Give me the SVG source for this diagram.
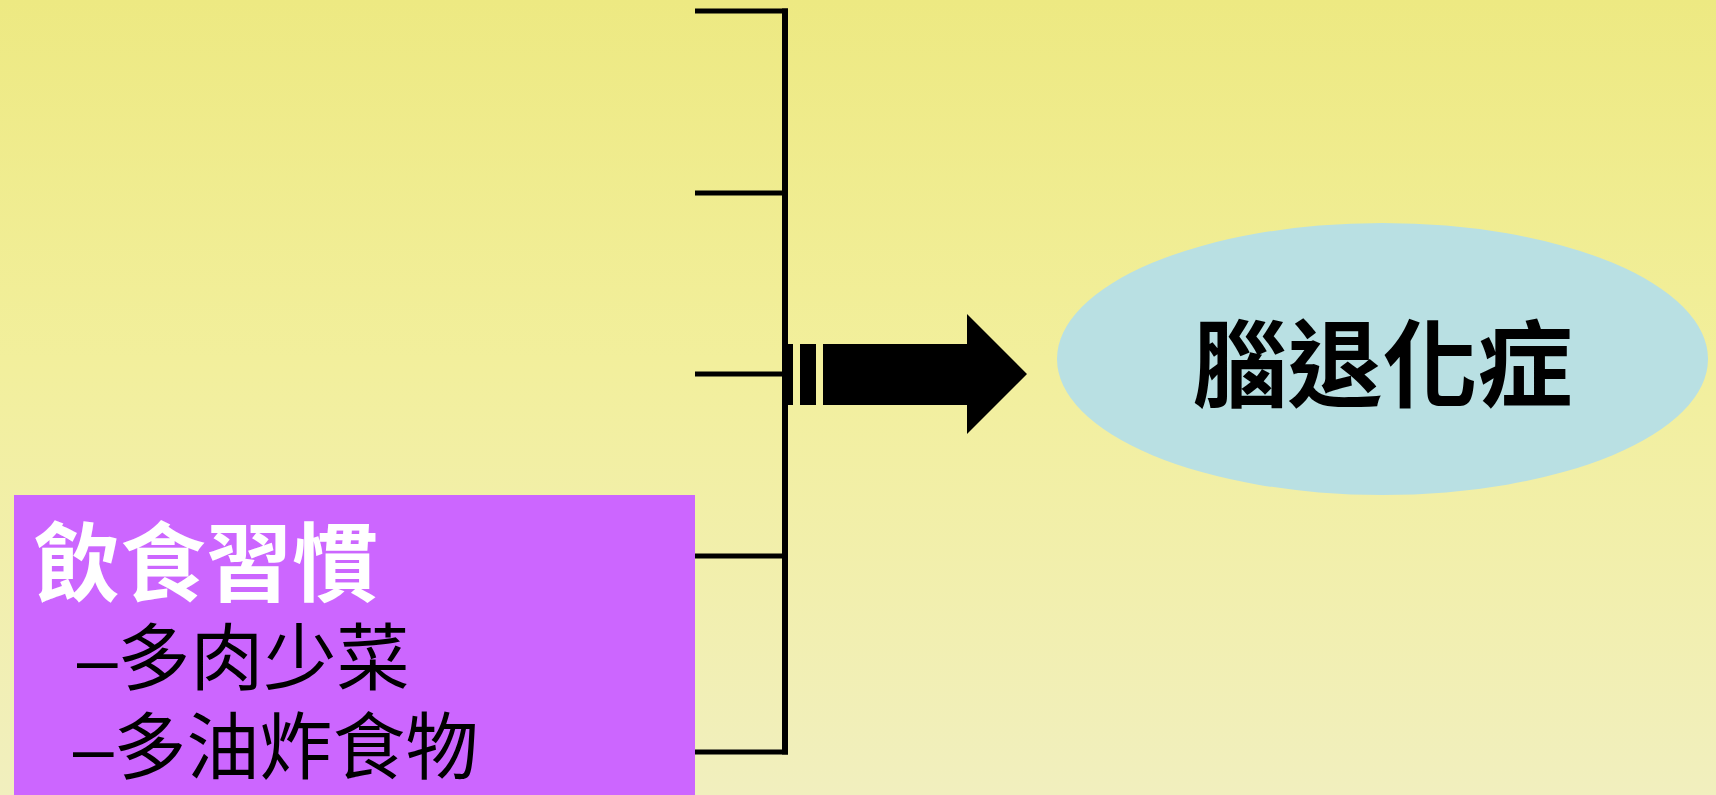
<svg xmlns="http://www.w3.org/2000/svg" width="1716" height="795" viewBox="0 0 1716 795">
  <defs>
    <linearGradient id="bg" x1="0" y1="0" x2="0" y2="1">
      <stop offset="0" stop-color="#EDE982"/>
      <stop offset="0.45" stop-color="#F2EF9C"/>
      <stop offset="1" stop-color="#F1EFBE"/>
    </linearGradient>
    <style>
      .ln { stroke: #000; stroke-width: 5; fill: none; }
      .cjk { font-family: "Noto Sans CJK TC", "Noto Sans CJK SC", sans-serif; }
      .item { font-family: "Liberation Sans", "Noto Sans CJK TC", sans-serif; font-size: 73px; fill: #000; }
    </style>
  </defs>
  <rect x="0" y="0" width="1716" height="795" fill="url(#bg)"/>

  <g id="connectors">
    <line class="ln" x1="695" y1="11" x2="788" y2="11"/>
    <line class="ln" x1="695" y1="193" x2="788" y2="193"/>
    <line class="ln" x1="695" y1="374" x2="788" y2="374"/>
    <line class="ln" x1="695" y1="556" x2="788" y2="556"/>
    <line class="ln" x1="695" y1="752" x2="788" y2="752"/>
    <line x1="785" y1="8.5" x2="785" y2="754.5" stroke="#000" stroke-width="6"/>
    <rect x="785" y="344" width="8" height="61" fill="#000"/>
    <rect x="800" y="344" width="16" height="61" fill="#000"/>
    <polygon points="823,344 967,344 967,314 1027,374 967,434 967,405 823,405" fill="#000"/>
  </g>

  <g id="node-diet">
    <rect x="14" y="495" width="681" height="300" fill="#CC66FF"/>
    <text class="cjk" x="34" y="595" font-size="86" font-weight="700" fill="#FFFFFF">飲食習慣</text>
    <text class="item" x="77" y="684">–多肉少菜</text>
    <text class="item" x="73" y="773">–多油炸食物</text>
  </g>

  <g id="node-dementia">
    <ellipse cx="1382.5" cy="359" rx="325.5" ry="136" fill="#B9E0E3"/>
    <text class="cjk" x="1382.5" y="400" font-size="95" font-weight="700" fill="#000" text-anchor="middle">腦退化症</text>
  </g>
</svg>
